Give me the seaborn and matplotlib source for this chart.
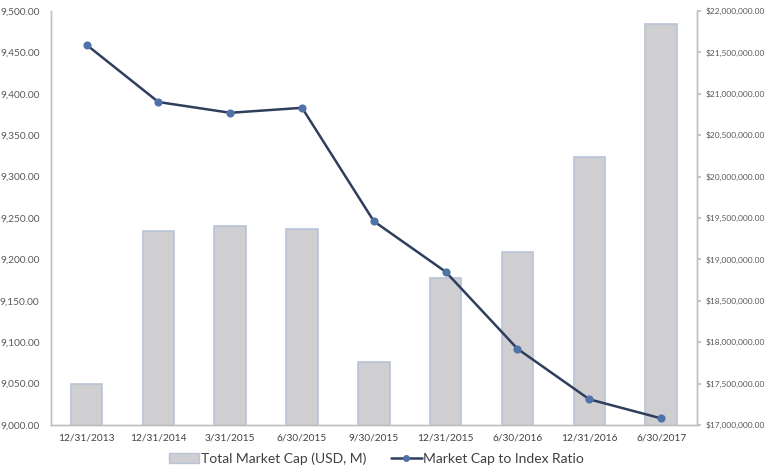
import matplotlib
matplotlib.use("Agg")
import matplotlib.pyplot as plt
import seaborn as sns
from matplotlib.patches import Patch
from matplotlib.lines import Line2D
from matplotlib.ticker import FuncFormatter, MultipleLocator

dates = ["12/31/2013", "12/31/2014", "3/31/2015", "6/30/2015", "9/30/2015",
         "12/31/2015", "6/30/2016", "12/31/2016", "6/30/2017"]
market_cap = [9049, 9234, 9240, 9237, 9076, 9178, 9209, 9324, 9484]
cap_to_index = [21590000, 20900000, 20770000, 20830000, 19460000,
                18850000, 17920000, 17310000, 17080000]

sns.set_theme(style="white")
plt.rcParams["font.family"] = ["Lato", "DejaVu Sans"]

bar_fill = "#cfcfd1"
bar_edge = "#b9c3d8"
line_col = "#2f3e5c"
marker_col = "#4f72a8"
text_col = "#595959"

fig, ax = plt.subplots(figsize=(7.68, 4.75), dpi=100)
fig.subplots_adjust(left=0.066, right=0.9076, bottom=0.1053, top=0.977)

sns.barplot(x=dates, y=market_cap, ax=ax, color=bar_fill, width=0.44,
            edgecolor=bar_edge, linewidth=1.2, saturation=1)
ax.set_ylim(9000, 9500)
ax.yaxis.set_major_locator(MultipleLocator(50))
ax.yaxis.set_major_formatter(FuncFormatter(lambda v, p: f"{v:,.2f}"))

ax2 = ax.twinx()
sns.pointplot(x=dates, y=cap_to_index, ax=ax2, color=line_col, markers="o",
              linestyles="-", errorbar=None, markersize=4.5, linewidth=1.8)
for ln in ax2.lines:
    ln.set_markerfacecolor(marker_col)
    ln.set_markeredgecolor(marker_col)
ax2.set_ylim(17000000, 22000000)
ax2.yaxis.set_major_locator(MultipleLocator(500000))
ax2.yaxis.set_major_formatter(FuncFormatter(lambda v, p: f"${v:,.2f}"))
ax2.grid(False)
ax.grid(False)

for a in (ax, ax2):
    for s in a.spines.values():
        s.set_color("#bfbfbf")
        s.set_linewidth(1)
    a.spines["top"].set_visible(False)
    a.set_xlabel("")
    a.set_ylabel("")

ax.tick_params(axis="y", length=0, labelsize=7.3, labelcolor=text_col, pad=8)
ax.tick_params(axis="x", length=0, labelsize=7.3, labelcolor="#404040", pad=6)
ax2.tick_params(axis="y", length=3, color="#bfbfbf", labelcolor=text_col,
                pad=3, direction="out")
for lbl in ax2.get_yticklabels():
    lbl.set_fontsize(6.0)
    lbl.set_fontstretch("condensed")
ax.set_xlim(-0.5, len(dates) - 0.5)

handles = [Patch(facecolor=bar_fill, edgecolor=bar_edge, linewidth=1),
           Line2D([0], [0], color=line_col, lw=1.8, marker="o", markersize=4,
                  markerfacecolor=marker_col, markeredgecolor=marker_col)]
fig.legend(handles, ["Total Market Cap (USD, M)", "Market Cap to Index Ratio"],
           loc="lower center", bbox_to_anchor=(0.49, -0.005), ncol=2, frameon=False,
           fontsize=10, labelcolor="#404040", handlelength=2.2, handletextpad=0.1,
           columnspacing=1.8)

fig.savefig("out.png", dpi=100)
